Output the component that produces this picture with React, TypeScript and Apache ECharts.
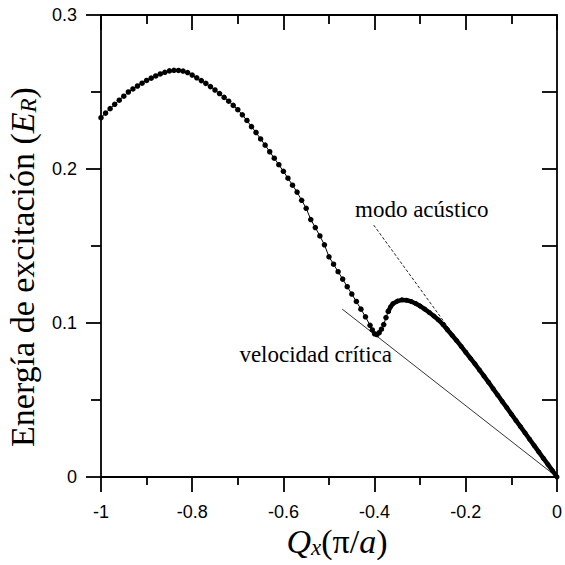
import React, { useEffect, useRef } from "react";
import * as echarts from "echarts";

// Dispersion curve, dotted part (Qx in units of pi/a, E in units of E_R)
const qxDots = [
  -1.0, -0.99, -0.98, -0.97, -0.96, -0.95, -0.94, -0.93, -0.92, -0.91,
  -0.9, -0.89, -0.88, -0.87, -0.86, -0.85, -0.84, -0.83, -0.82, -0.81,
  -0.8, -0.79, -0.78, -0.77, -0.76, -0.75, -0.74, -0.73, -0.72, -0.71,
  -0.7, -0.69, -0.68, -0.67, -0.66, -0.65, -0.64, -0.63, -0.62, -0.61,
  -0.6, -0.59, -0.58, -0.57, -0.56, -0.55, -0.54, -0.53, -0.52, -0.51,
  -0.5, -0.49, -0.48, -0.47, -0.46, -0.45, -0.44, -0.43, -0.42, -0.41,
  -0.405, -0.4, -0.395, -0.39, -0.385, -0.38, -0.375, -0.37,
];
const eDots = [
  0.2333, 0.2363, 0.2392, 0.242, 0.2447, 0.2473, 0.25, 0.252, 0.2539, 0.2557,
  0.2575, 0.259, 0.2604, 0.2617, 0.2628, 0.2637, 0.2641, 0.264, 0.2636, 0.2626,
  0.261, 0.2592, 0.2574, 0.2556, 0.2535, 0.2513, 0.249, 0.2465, 0.244, 0.2413,
  0.2385, 0.2352, 0.2315, 0.2275, 0.2237, 0.2195, 0.2155, 0.2112, 0.207, 0.2028,
  0.1985, 0.194, 0.1895, 0.185, 0.1797, 0.1745, 0.1672, 0.162, 0.1565, 0.1508,
  0.143, 0.1382, 0.1333, 0.1285, 0.1236, 0.1188, 0.114, 0.109, 0.104, 0.0985,
  0.0955, 0.093, 0.0925, 0.0937, 0.096, 0.099, 0.1035, 0.1075,
];
// Dense part of the curve (drawn as a thick band)
const qxDense = [
  -0.37, -0.365, -0.36, -0.35, -0.34, -0.33, -0.32, -0.31, -0.3, -0.29,
  -0.28, -0.27, -0.26, -0.25, -0.24, -0.23, -0.22, -0.21, -0.2, -0.19,
  -0.18, -0.17, -0.16, -0.15, -0.14, -0.13, -0.12, -0.11, -0.1, -0.09,
  -0.08, -0.07, -0.06, -0.05, -0.04, -0.03, -0.02, -0.01, 0,
];
const eDense = [
  0.1075, 0.1105, 0.1125, 0.1142, 0.115, 0.1148, 0.114, 0.1127, 0.111, 0.109,
  0.1068, 0.1045, 0.102, 0.099, 0.0955, 0.092, 0.0885, 0.0848, 0.081, 0.0772,
  0.0735, 0.0695, 0.0655, 0.0615, 0.0573, 0.0532, 0.049, 0.045, 0.0408, 0.0367,
  0.0327, 0.0286, 0.0245, 0.0204, 0.0163, 0.0122, 0.0082, 0.0041, 0,
];
// Reference straight lines
const criticalLine = [
  [-0.471, 0.109],
  [0, 0],
];
const acousticLine = [
  [-0.402, 0.1636],
  [0, 0],
];
const xTicks = { min: -1, max: 0, interval: 0.2 };
const yTicks = { min: 0, max: 0.3, interval: 0.1 };

const serif = "Liberation Serif";
const sans = "Liberation Sans";

export default function App() {
  const ref = useRef<HTMLDivElement>(null);
  useEffect(() => {
    if (!ref.current) return;
    const chart = echarts.init(ref.current, null, { renderer: "svg" });
    const lw = 1.8;
    const axisLine = { show: true, onZero: false, lineStyle: { color: "#000", width: lw } };
    const zip = (a: number[], b: number[]) => a.map((v, i) => [v, b[i]]);
    const richStyles = {
      i: { fontFamily: serif, fontStyle: "italic", fontSize: 34, lineHeight: 36, color: "#000" },
      n: { fontFamily: serif, fontSize: 34, lineHeight: 36, color: "#000" },
      s: { fontFamily: serif, fontStyle: "italic", fontSize: 23, lineHeight: 12, verticalAlign: "bottom", color: "#000" },
      t: { fontFamily: serif, fontSize: 23, lineHeight: 26, color: "#000" },
    };
    chart.setOption({
      animation: false,
      backgroundColor: "#fff",
      grid: { left: 101, right: 3, top: 15, bottom: 88, containLabel: false },
      xAxis: [
        {
          type: "value",
          position: "bottom",
          ...xTicks,
          axisLine,
          axisTick: { show: true, inside: false, length: 15, lineStyle: { color: "#000", width: lw } },
          minorTick: { show: true, splitNumber: 2, length: 8, lineStyle: { color: "#000", width: lw } },
          splitLine: { show: false },
          axisLabel: { margin: 26, color: "#000", fontSize: 18, fontFamily: sans },
        },
        {
          type: "value",
          position: "top",
          ...xTicks,
          axisLine,
          axisTick: { show: true, inside: true, length: 15, lineStyle: { color: "#000", width: lw } },
          minorTick: { show: true, splitNumber: 2, length: 9, lineStyle: { color: "#000", width: lw } },
          splitLine: { show: false },
          axisLabel: { show: false },
        },
      ],
      yAxis: [
        {
          type: "value",
          position: "left",
          ...yTicks,
          axisLine,
          axisTick: { show: true, inside: false, length: 15, lineStyle: { color: "#000", width: lw } },
          minorTick: { show: true, splitNumber: 2, length: 10, lineStyle: { color: "#000", width: lw } },
          splitLine: { show: false },
          axisLabel: { margin: 24, color: "#000", fontSize: 18, fontFamily: sans },
        },
        {
          type: "value",
          position: "right",
          ...yTicks,
          axisLine,
          axisTick: { show: true, inside: true, length: 15, lineStyle: { color: "#000", width: lw } },
          minorTick: { show: true, splitNumber: 2, length: 15, lineStyle: { color: "#000", width: lw } },
          splitLine: { show: false },
          axisLabel: { show: false },
        },
      ],
      series: [
        {
          type: "line",
          data: acousticLine,
          showSymbol: false,
          silent: true,
          lineStyle: { color: "#222", width: 1, type: [3, 2] },
        },
        {
          type: "line",
          data: criticalLine,
          showSymbol: false,
          silent: true,
          lineStyle: { color: "#333", width: 1 },
        },
        {
          type: "line",
          data: zip(qxDots, eDots),
          symbol: "circle",
          symbolSize: 5.5,
          itemStyle: { color: "#000" },
          lineStyle: { color: "#000", width: 1 },
        },
        {
          type: "line",
          data: zip(qxDense, eDense),
          symbol: "circle",
          symbolSize: 5,
          itemStyle: { color: "#000" },
          lineStyle: { color: "#000", width: 4.5 },
        },
      ],
      graphic: [
        {
          type: "text",
          x: 355,
          y: 209,
          style: {
            text: "{t|modo acústico}",
            rich: richStyles,
            align: "left",
            verticalAlign: "middle",
          },
        },
        {
          type: "text",
          x: 392,
          y: 354,
          style: {
            text: "{t|velocidad crítica}",
            rich: richStyles,
            align: "right",
            verticalAlign: "middle",
          },
        },
        {
          type: "text",
          x: 337,
          y: 541,
          style: {
            text: "{i|Q}{s|x}{n|(π/}{i|a}{n|)}",
            align: "center",
            verticalAlign: "middle",
            rich: richStyles,
          },
        },
        {
          type: "text",
          x: 22,
          y: 267,
          rotation: Math.PI / 2,
          style: {
            text: "{n|Energía de excitación (}{i|E}{s|R}{n|)}",
            align: "center",
            verticalAlign: "middle",
            rich: richStyles,
          },
        },
      ],
    });
    return () => chart.dispose();
  }, []);
  return (
    <div
      ref={ref}
      style={{ position: "fixed", left: 0, top: 0, width: 565, height: 565, background: "#fff" }}
    />
  );
}
